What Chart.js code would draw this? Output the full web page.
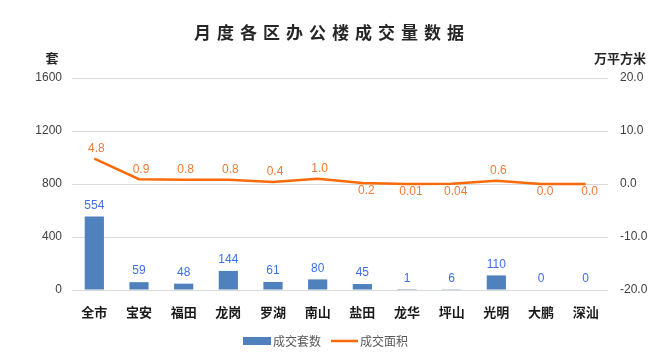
<!DOCTYPE html>
<html><head><meta charset="utf-8">
<script src="https://cdn.jsdelivr.net/npm/chart.js@4.4.0/dist/chart.umd.min.js"></script>
<style>html,body{margin:0;padding:0;background:#fff}#wrap{width:663px;height:355px}</style>
</head><body><div id="wrap"><canvas id="c" width="663" height="355"></canvas></div>
<script>
const chartTitle = '月度各区办公楼成交量数据';
const categories = ['全市','宝安','福田','龙岗','罗湖','南山','盐田','龙华','坪山','光明','大鹏','深汕'];
const unitsSold = [554,59,48,144,61,80,45,1,6,110,0,0];
const areaSold = [4.8,0.9,0.8,0.8,0.4,1.0,0.2,0.01,0.04,0.6,0.0,0.0];
const areaLabels = ['4.8','0.9','0.8','0.8','0.4','1.0','0.2','0.01','0.04','0.6','0.0','0.0'];
const leftTicks = [0,400,800,1200,1600];
const rightTicks = [-20,-10,0,10,20];
const seriesNames = ['成交套数','成交面积'];
const axisUnits = ['套','万平方米'];

const BAR = '#4F81BD', LINE = '#F96A0A', BARLBL = '#3F6DE8', LINELBL = '#EF7B35';
const CJK = '"Noto Sans CJK SC", "Noto Sans", sans-serif';
const NUM = '"Liberation Sans", Arial, sans-serif';

const decor = {
  id: 'decor',
  afterDatasetsDraw(chart) {
    const ctx = chart.ctx;
    ctx.save();
    // title
    ctx.fillStyle = '#262626';
    ctx.font = 'bold 17px ' + CJK;
    ctx.textBaseline = 'middle';
    ctx.textAlign = 'center';
    try { ctx.letterSpacing = '6px'; } catch (e) {}
    ctx.fillText(chartTitle, 332, 33);
    try { ctx.letterSpacing = '0px'; } catch (e) {}
    // unit labels
    ctx.font = 'bold 13px ' + CJK;
    ctx.fillStyle = '#262626';
    ctx.fillText(axisUnits[0], 52, 58);
    ctx.fillText(axisUnits[1], 620, 58);
    // bar labels
    const m0 = chart.getDatasetMeta(0);
    ctx.font = '12px ' + NUM;
    ctx.fillStyle = BARLBL;
    m0.data.forEach((el, i) => {
      ctx.fillText(String(unitsSold[i]), el.x, el.y - 11);
    });
    // line labels
    const m1 = chart.getDatasetMeta(1);
    ctx.fillStyle = LINELBL;
    m1.data.forEach((el, i) => {
      if (areaSold[i] >= 0.3) ctx.fillText(areaLabels[i], el.x + 2, el.y - 10);
      else ctx.fillText(areaLabels[i], el.x + 4, el.y + 8);
    });
    // legend
    const ly = 341;
    ctx.fillStyle = BAR;
    ctx.fillRect(243, ly - 4, 28, 8);
    ctx.font = '12px ' + CJK;
    ctx.fillStyle = '#595959';
    ctx.textAlign = 'left';
    ctx.fillText(seriesNames[0], 273, ly);
    ctx.strokeStyle = LINE;
    ctx.lineWidth = 2.5;
    ctx.beginPath(); ctx.moveTo(331, ly); ctx.lineTo(358, ly); ctx.stroke();
    ctx.fillText(seriesNames[1], 360, ly);
    ctx.restore();
  }
};

new Chart(document.getElementById('c'), {
  data: {
    labels: categories,
    datasets: [
      { type: 'bar', label: seriesNames[0], data: unitsSold, backgroundColor: BAR, yAxisID: 'y', order: 2,
        categoryPercentage: 0.43, barPercentage: 1.0 },
      { type: 'line', label: seriesNames[1], data: areaSold, borderColor: LINE, borderWidth: 2.5, pointRadius: 0,
        tension: 0, yAxisID: 'y1', order: 1, fill: false }
    ]
  },
  options: {
    responsive: false,
    animation: false,
    devicePixelRatio: 1,
    layout: { padding: { top: 78, bottom: 30, left: 0, right: 0 } },
    plugins: { legend: { display: false }, title: { display: false }, tooltip: { enabled: false } },
    scales: {
      x: {
        grid: { display: false, drawTicks: false },
        border: { display: false },
        ticks: { color: '#1a1a1a', font: { family: CJK, size: 13, weight: 'bold' }, padding: 14, maxRotation: 0 },
        afterFit(s) { s.height = 35; }
      },
      y: {
        position: 'left', min: 0, max: 1600,
        afterBuildTicks(s) { s.ticks = leftTicks.map(v => ({ value: v })); },
        grid: { color: '#D9D9D9', lineWidth: 1, drawTicks: false },
        border: { display: false },
        ticks: { color: '#404040', font: { family: NUM, size: 12 }, padding: 10, callback: v => String(v) },
        afterFit(s) { s.width = 72; }
      },
      y1: {
        position: 'right', min: -20, max: 20,
        afterBuildTicks(s) { s.ticks = rightTicks.map(v => ({ value: v })); },
        grid: { display: false, drawTicks: false },
        border: { display: false },
        ticks: { color: '#404040', font: { family: NUM, size: 12 }, padding: 12, callback: v => v.toFixed(1) },
        afterFit(s) { s.width = 55; }
      }
    }
  },
  plugins: [decor]
});
</script></body></html>
